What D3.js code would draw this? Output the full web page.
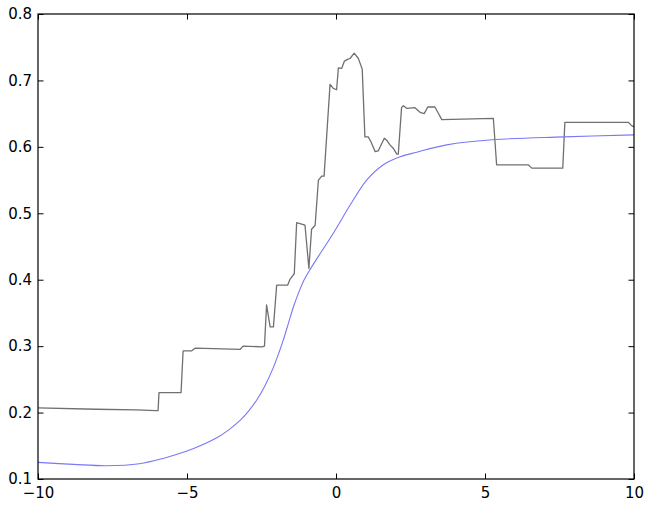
<!DOCTYPE html>
<html>
<head>
<meta charset="utf-8">
<script src="https://cdn.jsdelivr.net/npm/d3@7"></script>
<style>
  html, body { margin: 0; padding: 0; background: #fff; }
  svg { display: block; }
  text { font-family: "DejaVu Sans", sans-serif; }
</style>
</head>
<body>
<div id="chart"></div>
<script>
// ---- data ----
const xTicks = [-10, -5, 0, 5, 10];
const yTicks = [0.1, 0.2, 0.3, 0.4, 0.5, 0.6, 0.7, 0.8];

const grayX = [-10, -8.05, -6.71, -6.04, -5.97, -5.94, -5.20, -5.13, -4.84, -4.73, -3.22, -3.12, -2.48, -2.40,
  -2.33, -2.21, -2.10, -1.99, -1.62, -1.54, -1.40, -1.32, -1.04, -0.91, -0.82, -0.70, -0.59, -0.48, -0.40,
  -0.20, -0.09, 0.02, 0.08, 0.19, 0.28, 0.41, 0.47, 0.61, 0.75, 0.88, 0.97, 1.08, 1.17, 1.31, 1.42, 1.62,
  1.70, 1.81, 1.92, 2.04, 2.09, 2.20, 2.26, 2.37, 2.65, 2.82, 2.96, 3.08, 3.32, 3.43, 3.55, 5.28, 5.39,
  6.45, 6.57, 7.61, 7.68, 9.81, 9.92, 10];
const grayY = [0.207, 0.205, 0.204, 0.203, 0.203, 0.230, 0.230, 0.293, 0.293, 0.297, 0.295, 0.300, 0.299, 0.300,
  0.362, 0.329, 0.329, 0.392, 0.392, 0.401, 0.409, 0.486, 0.482, 0.417, 0.476, 0.482, 0.550, 0.556, 0.556,
  0.694, 0.688, 0.686, 0.719, 0.718, 0.729, 0.732, 0.733, 0.741, 0.733, 0.717, 0.615, 0.615, 0.608, 0.593, 0.594, 0.613,
  0.610, 0.603, 0.598, 0.589, 0.589, 0.659, 0.662, 0.658, 0.659, 0.652, 0.650, 0.660, 0.660, 0.651, 0.641, 0.643, 0.573,
  0.573, 0.568, 0.568, 0.637, 0.637, 0.632, 0.630];

const blueX = [-10, -8.8, -7.7, -6.6, -5.8, -5.0, -4.5, -4.0, -3.6, -3.2, -2.9, -2.66, -2.4, -2.1, -1.9, -1.77,
  -1.6, -1.43, -1.25, -1.10, -0.9, -0.65, -0.09, 0.47, 1.03, 1.59, 2.15, 2.71, 3.72, 5.34, 7.63, 10];
const blueY = [0.125, 0.122, 0.120, 0.123, 0.131, 0.142, 0.151, 0.162, 0.174, 0.189, 0.204, 0.219, 0.239, 0.268, 0.292, 0.309,
  0.334, 0.359, 0.381, 0.397, 0.413, 0.431, 0.470, 0.512, 0.550, 0.573, 0.585, 0.592, 0.603, 0.611, 0.615, 0.618];

// ---- layout ----
const W = 659, H = 511;
const mLeft = 38, mRight = 634, mTop = 14, mBottom = 479;

const svg = d3.select("#chart").append("svg").attr("width", W).attr("height", H);

const x = d3.scaleLinear().domain([-10, 10]).range([mLeft, mRight]);
const y = d3.scaleLinear().domain([0.1, 0.8]).range([mBottom, mTop]);

const grayData = grayX.map((v, i) => [v, grayY[i]]);
const blueData = blueX.map((v, i) => [v, blueY[i]]);

svg.append("path").datum(grayData)
  .attr("d", d3.line().x(d => x(d[0])).y(d => y(d[1])))
  .attr("fill", "none").attr("stroke", "#707070").attr("stroke-width", 1.3)
  .attr("stroke-linejoin", "round");

svg.append("path").datum(blueData)
  .attr("d", d3.line().x(d => x(d[0])).y(d => y(d[1])).curve(d3.curveCatmullRom.alpha(0.5)))
  .attr("fill", "none").attr("stroke", "#7878f8").attr("stroke-width", 1.1);

const tk = 5.5;
const fmtY = d3.format(".1f");

function styleAxis(g) {
  g.select(".domain").remove();
  g.selectAll("line").attr("stroke", "#000").attr("stroke-width", 1);
  g.selectAll("text").attr("fill", "#000").style("font-size", "15px").style("font-family", "'DejaVu Sans', sans-serif");
}

svg.append("g").attr("transform", `translate(${mLeft},0)`)
  .call(d3.axisLeft(y).tickValues(yTicks).tickFormat(fmtY).tickSizeInner(-tk).tickSizeOuter(0).tickPadding(6))
  .call(styleAxis);
svg.append("g").attr("transform", `translate(${mRight},0)`)
  .call(d3.axisRight(y).tickValues(yTicks).tickFormat("").tickSizeInner(-tk).tickSizeOuter(0))
  .call(styleAxis);
svg.append("g").attr("transform", `translate(0,${mBottom})`)
  .call(d3.axisBottom(x).tickValues(xTicks).tickFormat(d3.format("d")).tickSizeInner(-tk).tickSizeOuter(0).tickPadding(8))
  .call(styleAxis);
svg.append("g").attr("transform", `translate(0,${mTop})`)
  .call(d3.axisTop(x).tickValues(xTicks).tickFormat("").tickSizeInner(-tk).tickSizeOuter(0))
  .call(styleAxis);

svg.append("rect")
  .attr("x", mLeft).attr("y", mTop).attr("width", mRight - mLeft).attr("height", mBottom - mTop)
  .attr("fill", "none").attr("stroke", "#000").attr("stroke-width", 1.2);
</script>
</body>
</html>
